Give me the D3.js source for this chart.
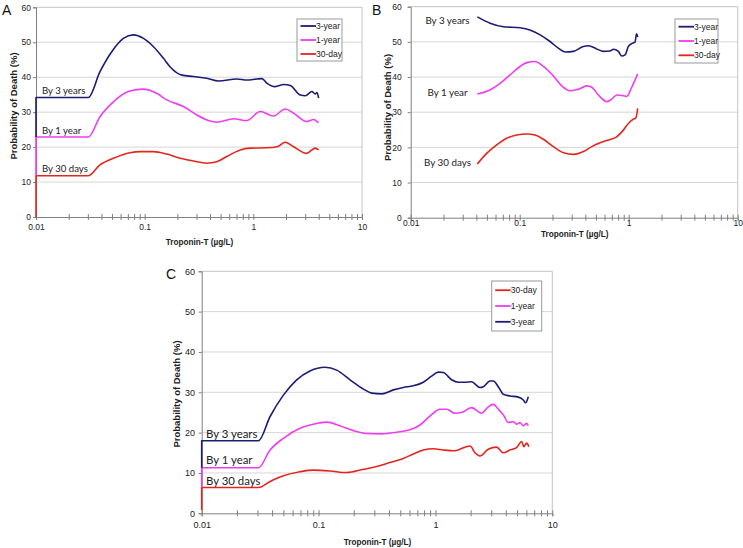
<!DOCTYPE html>
<html><head><meta charset="utf-8">
<script src="https://cdn.jsdelivr.net/npm/d3@7"></script>
<style>
body{margin:0;background:#fff;}
svg{display:block;}
</style></head>
<body>
<svg id="chart" width="743" height="548"></svg>
<script>
// ---------- data ----------
const xTickLabels = [0.01, 0.1, 1, 10];
const yTickValues = [0, 10, 20, 30, 40, 50, 60];

// Panel A
const panelA_3yr = [[0.01,22.9],[0.01,34.2],[0.0303,34.2],[0.0388,41.6],[0.0498,47.3],[0.0637,51.1],[0.0788,52.1],[0.0975,51.1],[0.120,48.8],[0.149,45.4],[0.171,43.0],[0.220,40.6],[0.281,40.2],[0.373,39.7],[0.478,38.9],[0.705,39.5],[0.871,39.2],[1.078,39.5],[1.2,39.6],[1.33,38.3],[1.59,37.3],[1.90,37.9],[2.19,37.6],[2.70,34.9],[3.01,34.7],[3.46,35.9],[3.71,35.2],[3.85,35.6],[3.99,34.0]];
const panelA_1yr = [[0.01,11.8],[0.01,22.9],[0.0303,22.9],[0.0388,28.7],[0.0498,32.5],[0.0708,35.9],[0.0975,36.6],[0.129,35.4],[0.160,33.5],[0.228,31.6],[0.302,29.2],[0.387,27.6],[0.461,27.1],[0.658,28.1],[0.871,27.6],[1.157,30.2],[1.53,28.9],[1.97,30.9],[2.35,29.7],[3.11,27.3],[3.59,27.9],[3.85,27.3],[3.99,27.0]];
const panelA_30d = [[0.01,0],[0.01,11.8],[0.0303,11.8],[0.0388,14.9],[0.0515,16.8],[0.0734,18.4],[0.0908,18.7],[0.120,18.7],[0.160,18.0],[0.212,16.8],[0.281,16.0],[0.373,15.4],[0.461,15.8],[0.570,17.3],[0.757,19.2],[0.935,19.7],[1.33,19.8],[1.65,20.1],[1.97,21.4],[2.35,20.1],[3.11,18.2],[3.46,19.2],[3.71,19.7],[3.99,19.2]];

// Panel B
const panelB_3yr = [[0.0409,57.1],[0.0535,55.3],[0.0708,54.3],[0.1007,54.0],[0.124,53.4],[0.154,52.0],[0.190,50.1],[0.226,48.2],[0.261,47.1],[0.311,47.3],[0.384,48.7],[0.427,48.9],[0.508,48.0],[0.586,47.3],[0.675,47.4],[0.723,47.9],[0.804,47.3],[0.863,46.0],[0.925,46.3],[0.993,48.7],[1.066,49.5],[1.143,49.9],[1.18,52.3],[1.21,51.4]];
const panelB_1yr = [[0.0409,35.2],[0.0516,36.1],[0.066,38.2],[0.0815,40.6],[0.1007,43.0],[0.116,44.1],[0.138,44.4],[0.165,43.0],[0.204,40.3],[0.243,37.5],[0.290,36.1],[0.345,36.5],[0.412,37.5],[0.458,37.1],[0.527,34.9],[0.629,33.0],[0.698,33.7],[0.776,34.9],[0.893,34.7],[0.959,34.5],[1.066,37.1],[1.21,40.9]];
const panelB_30d = [[0.0409,15.3],[0.0498,18.3],[0.0615,20.7],[0.0760,22.6],[0.0938,23.5],[0.116,23.8],[0.138,23.5],[0.165,22.3],[0.204,20.2],[0.252,18.5],[0.311,18.0],[0.384,18.8],[0.458,20.2],[0.546,21.3],[0.650,22.1],[0.776,23.0],[0.893,24.9],[0.993,26.8],[1.10,28.0],[1.16,28.3],[1.21,31.1]];

// Panel C
const panelC_3yr = [[0.01,11.3],[0.01,18.0],[0.0306,18.0],[0.0385,24.0],[0.050,29.3],[0.065,33.1],[0.0845,35.3],[0.1136,36.2],[0.143,35.5],[0.186,33.1],[0.242,30.8],[0.285,29.8],[0.347,29.6],[0.436,30.6],[0.531,31.2],[0.647,31.6],[0.787,32.5],[0.927,34.0],[1.058,35.0],[1.167,34.9],[1.376,33.1],[1.57,32.5],[1.79,32.5],[2.04,32.6],[2.40,31.2],[2.57,31.4],[2.93,32.8],[3.13,32.8],[3.45,31.4],[3.81,29.5],[4.34,29.1],[5.12,28.8],[5.65,28.1],[5.92,27.4],[6.23,28.9]];
const panelC_1yr = [[0.01,6.4],[0.01,11.3],[0.0306,11.3],[0.0385,15.7],[0.050,18.6],[0.0693,21.1],[0.090,22.1],[0.117,22.6],[0.152,21.7],[0.198,20.5],[0.258,19.8],[0.347,19.7],[0.466,20.1],[0.605,20.7],[0.738,21.9],[0.898,24.1],[1.093,25.8],[1.247,25.8],[1.469,24.8],[1.675,25.0],[2.04,26.2],[2.48,24.8],[2.83,26.4],[3.13,27.0],[3.45,25.8],[3.81,24.4],[4.20,22.5],[4.64,22.7],[4.95,22.1],[5.29,22.5],[5.65,21.7],[6.03,22.3],[6.23,21.7]];
const panelC_30d = [[0.01,0.8],[0.01,6.4],[0.0306,6.4],[0.0385,7.9],[0.050,9.3],[0.0693,10.3],[0.090,10.7],[0.125,10.5],[0.174,10.1],[0.242,10.9],[0.314,11.6],[0.408,12.6],[0.531,13.6],[0.647,14.7],[0.787,15.7],[0.96,16.0],[1.167,15.7],[1.469,15.5],[1.79,16.4],[1.98,16.7],[2.18,15.0],[2.40,14.2],[2.83,15.9],[3.34,16.4],[3.81,15.0],[4.34,15.7],[4.95,16.3],[5.47,17.8],[5.71,16.5],[6.03,17.4],[6.31,16.5]];

const seriesNames = {"3yr":"3-year","1yr":"1-year","30d":"30-day"};
const seriesColors = {"3yr":"#1c1c74","1yr":"#f03cf0","30d":"#e3261d"};
const byLabels = {"3yr":"By 3 years","1yr":"By 1 year","30d":"By 30 days"};

// ---------- layout ----------
const panels = [
  {letter:"A", letterX:2, letterY:15, x0:36, x1:362, yTop:7.3, yBot:217, tickLabelDy:13, tickFont:8.5,
   xTitleY:245, yTitleX:14, yTitleY:106, yLabGap:5,
   series:{"3yr":panelA_3yr,"1yr":panelA_1yr,"30d":panelA_30d},
   legendOrder:["3yr","1yr","30d"], legend:{x:297,y:19,w:45,h:42,row:14},
   byPos:{"3yr":[42,93.5],"1yr":[42,133.5],"30d":[42,172]}, byFont:9.6, byAnchor:"start"},
  {letter:"B", letterX:372, letterY:15, x0:410.7, x1:737.7, yTop:6.7, yBot:217.7, tickLabelDy:8, tickFont:8.5,
   xTitleY:236.5, yTitleX:387.7, yTitleY:107.5, yLabGap:9,
   series:{"3yr":panelB_3yr,"1yr":panelB_1yr,"30d":panelB_30d},
   legendOrder:["3yr","1yr","30d"], legend:{x:675,y:19,w:43,h:44,row:14.3},
   byPos:{"3yr":[447.5,23.5],"1yr":[447.5,96],"30d":[447.5,165.5]}, byFont:9.8, byAnchor:"middle"},
  {letter:"C", letterX:166, letterY:279, x0:201.7, x1:552.3, yTop:271.3, yBot:513.3, tickLabelDy:15, tickFont:9,
   xTitleY:545, yTitleX:176.7, yTitleY:394, yLabGap:6.7,
   series:{"3yr":panelC_3yr,"1yr":panelC_1yr,"30d":panelC_30d},
   legendOrder:["30d","1yr","3yr"], legend:{x:491.7,y:281,w:50,h:50,row:15.8},
   byPos:{"3yr":[206,437.5],"1yr":[206,463.5],"30d":[206,485]}, byFont:11.4, byAnchor:"start"}
];

const svg = d3.select("#chart");
const sans = "'Liberation Sans', Arial, sans-serif";

panels.forEach(p => {
  const x = d3.scaleLog().domain([0.01, 10]).range([p.x0, p.x1]);
  const y = d3.scaleLinear().domain([0, 60]).range([p.yBot, p.yTop]);
  const g = svg.append("g");

  // gridlines
  g.selectAll("line.grid").data(yTickValues.filter(v => v > 0 && v < 60)).join("line")
    .attr("x1", p.x0).attr("x2", p.x1).attr("y1", d => y(d)).attr("y2", d => y(d))
    .attr("stroke", "#d6d6d6").attr("stroke-width", 1);
  // frame top/right
  g.append("path").attr("d", `M${p.x0},${y(60)}H${p.x1}V${y(0)}`)
    .attr("fill", "none").attr("stroke", "#c4c4c4").attr("stroke-width", 1);

  // x axis
  const allTicks = [];
  [0.01, 0.1, 1].forEach(dec => { for (let k = 1; k < 10; k++) allTicks.push(dec * k); });
  allTicks.push(10);
  const xAxis = d3.axisBottom(x).tickValues(allTicks).tickSize(3)
    .tickFormat(d => xTickLabels.some(v => Math.abs(v - d) < 1e-9) ? String(d) : "");
  const gx = g.append("g").attr("transform", `translate(0,${p.yBot})`).call(xAxis);
  gx.select(".domain").attr("stroke", "#7f7f7f");
  gx.selectAll(".tick line").attr("y1", -3).attr("y2", 3).attr("stroke", "#7f7f7f");
  gx.selectAll(".tick text").attr("y", p.tickLabelDy - 3).attr("dy", "0.35em")
    .attr("font-size", p.tickFont).attr("fill", "#222").attr("font-family", sans);

  // y axis
  const yAxis = d3.axisLeft(y).tickValues(yTickValues).tickSize(3).tickPadding(p.yLabGap - 3);
  const gy = g.append("g").attr("transform", `translate(${p.x0},0)`).call(yAxis);
  gy.select(".domain").attr("stroke", "#7f7f7f");
  gy.selectAll(".tick line").attr("stroke", "#7f7f7f");
  gy.selectAll(".tick text").attr("font-size", p.tickFont).attr("fill", "#222").attr("font-family", sans);

  // axis titles
  g.append("text").attr("x", (p.x0 + p.x1) / 2 + 0.5).attr("y", p.xTitleY)
    .attr("text-anchor", "middle").attr("font-size", 8.2).attr("font-weight", "bold").attr("fill", "#222")
    .attr("font-family", sans).text("Troponin-T (µg/L)");
  g.append("text").attr("transform", `translate(${p.yTitleX + 3},${p.yTitleY}) rotate(-90)`)
    .attr("text-anchor", "middle").attr("font-size", 9.5).attr("font-weight", "bold").attr("fill", "#222")
    .attr("font-family", sans).text("Probability of Death (%)");

  // panel letter
  g.append("text").attr("x", p.letterX).attr("y", p.letterY).attr("font-size", 14).attr("fill", "#111")
    .attr("font-family", sans).text(p.letter);

  // lines
  const line = d3.line().x(d => x(d[0])).y(d => y(d[1])).curve(d3.curveMonotoneX);
  ["30d", "1yr", "3yr"].forEach(k => {
    g.append("path").datum(p.series[k]).attr("d", line)
      .attr("fill", "none").attr("stroke", seriesColors[k]).attr("stroke-width", 1.6)
      .attr("stroke-linejoin", "round");
  });

  // By labels
  Object.keys(p.byPos).forEach(k => {
    g.append("text").attr("x", p.byPos[k][0]).attr("y", p.byPos[k][1])
      .attr("text-anchor", p.byAnchor).attr("font-size", p.byFont).attr("fill", "#222")
      .attr("font-family", "Lato, 'Open Sans', sans-serif").text(byLabels[k]);
  });

  // legend
  const L = p.legend;
  const lg = g.append("g");
  lg.append("rect").attr("x", L.x).attr("y", L.y).attr("width", L.w).attr("height", L.h)
    .attr("fill", "#fff").attr("stroke", "#9a9a9a").attr("stroke-width", 1);
  p.legendOrder.forEach((k, i) => {
    const cy = L.y + L.h / 2 + (i - 1) * L.row;
    lg.append("line").attr("x1", L.x + 3.5).attr("x2", L.x + 19).attr("y1", cy).attr("y2", cy)
      .attr("stroke", seriesColors[k]).attr("stroke-width", 1.8);
    lg.append("text").attr("x", L.x + 19).attr("y", cy).attr("dy", "0.35em")
      .attr("font-size", 8.5).attr("fill", "#222").attr("font-family", sans).text(seriesNames[k]);
  });
});
</script>
</body></html>
